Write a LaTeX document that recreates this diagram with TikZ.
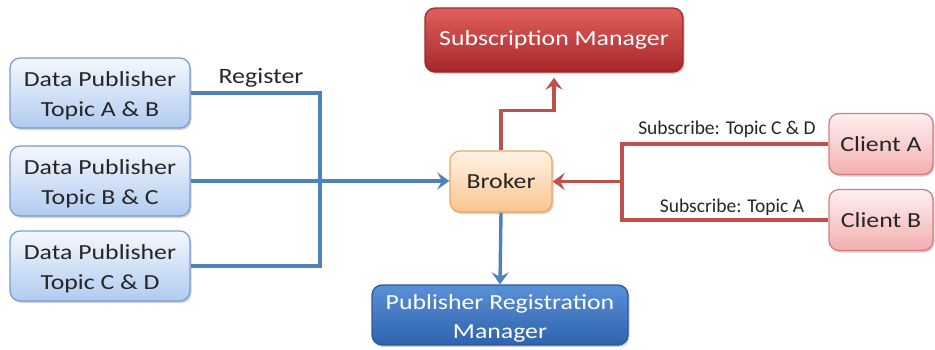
\documentclass[tikz,border=0pt]{standalone}
\usepackage{fontspec}
\setmainfont{Carlito}
\usetikzlibrary{arrows.meta,shadows}

\definecolor{pubtop}{HTML}{F4F8FE}
\definecolor{pubbot}{HTML}{B0CBF0}
\definecolor{pubedge}{HTML}{7A9CD6}
\definecolor{brktop}{HTML}{FFF3E6}
\definecolor{brkbot}{HTML}{FBC58E}
\definecolor{brkedge}{HTML}{F2A65A}
\definecolor{smtop}{HTML}{E0605C}
\definecolor{smbot}{HTML}{A8262A}
\definecolor{smedge}{HTML}{9E2A2A}
\definecolor{cltop}{HTML}{FFF0F0}
\definecolor{clbot}{HTML}{F3AFAF}
\definecolor{cledge}{HTML}{D77C7C}
\definecolor{prmtop}{HTML}{5A90D6}
\definecolor{prmbot}{HTML}{2E63AE}
\definecolor{prmedge}{HTML}{2B5A9C}
\definecolor{bluewire}{HTML}{4F81BD}
\definecolor{redwire}{HTML}{C0504D}

% slightly widened lettering
\newcommand{\widetxt}[1]{\scalebox{1.2}[1]{#1}}
% taller first line, so two-line texts sit a little lower in their box
\newcommand{\lowerstrut}{\rule{0pt}{21pt}}

\tikzset{
  box/.style={rounded corners=10pt, align=center, line width=1.3pt,
    drop shadow={shadow xshift=1.5pt, shadow yshift=-2pt, opacity=0.35},
    font=\fontsize{21.5}{30}\selectfont, inner sep=0pt},
  pubbox/.style={box, draw=pubedge, top color=pubtop, bottom color=pubbot,
    minimum width=180pt, minimum height=70pt, text=black!85},
  brkbox/.style={box, draw=brkedge, top color=brktop, bottom color=brkbot,
    minimum width=102pt, minimum height=61pt, text=black!85},
  smbox/.style={box, draw=smedge, top color=smtop, bottom color=smbot,
    minimum width=258pt, minimum height=64pt, text=white},
  clbox/.style={box, draw=cledge, top color=cltop, bottom color=clbot,
    minimum width=104pt, minimum height=61pt, text=black!85},
  prmbox/.style={box, draw=prmedge, top color=prmtop, bottom color=prmbot,
    minimum width=256pt, minimum height=60pt, text=white,
    font=\fontsize{21.5}{29}\selectfont},
  wire/.style={line width=3.4pt},
  bwire/.style={wire, draw=bluewire},
  rwire/.style={wire, draw=redwire},
  tip/.style={-{Stealth[length=12pt,width=17pt,inset=4.5pt]}},
  lbl/.style={text=black!85, inner sep=0pt}
}

\begin{document}
\begin{tikzpicture}[x=1pt,y=-1pt]
  \useasboundingbox (0,0) rectangle (935,349);

  % publishers
  \node[pubbox] (dp1) at (100,93)  {\lowerstrut\widetxt{Data Publisher}\\\widetxt{Topic A \& B}};
  \node[pubbox] (dp2) at (100,181) {\lowerstrut\widetxt{Data Publisher}\\\widetxt{Topic B \& C}};
  \node[pubbox] (dp3) at (100,266) {\lowerstrut\widetxt{Data Publisher}\\\widetxt{Topic C \& D}};

  % central broker and managers
  \node[brkbox] (brk) at (501,181.5) {\widetxt{Broker}};
  \node[smbox]  (sm)  at (554,40)  {\widetxt{Subscription Manager}};
  \node[prmbox] (prm) at (500,315) {\lowerstrut\widetxt{Publisher Registration}\\\widetxt{Manager}};

  % clients
  \node[clbox] (ca) at (881,144) {\widetxt{Client A}};
  \node[clbox] (cb) at (881,220) {\widetxt{Client B}};

  % junction points of the wiring
  \coordinate (jl) at (320,181);
  \coordinate (jr) at (622,181.5);

  % registration wiring
  \draw[bwire] (dp1.east) -| (jl) |- (dp3.east);
  \draw[bwire, tip] (dp2.east) -- (dp2.east -| brk.west);
  \node[lbl, font=\fontsize{22}{24}\selectfont] (reg) at (261,78)
    {\scalebox{1.18}[1]{Register}};

  % subscription wiring
  \draw[rwire] (ca.west) -| (jr) |- (cb.west);
  \draw[rwire, tip] (jr) -- (brk.east);
  \node[lbl, font=\fontsize{19.5}{21}\selectfont] (subcd) at (727,129) {Subscribe: Topic C \& D};
  \node[lbl, font=\fontsize{19.5}{21}\selectfont] (suba) at (732,207) {Subscribe: Topic A};

  % broker to managers
  \draw[rwire, tip, shorten >=5pt] (brk.north) -- ++(0,-40) -| (sm.south);
  \draw[bwire, tip] (brk.south) -- (prm.north);
\end{tikzpicture}
\end{document}
